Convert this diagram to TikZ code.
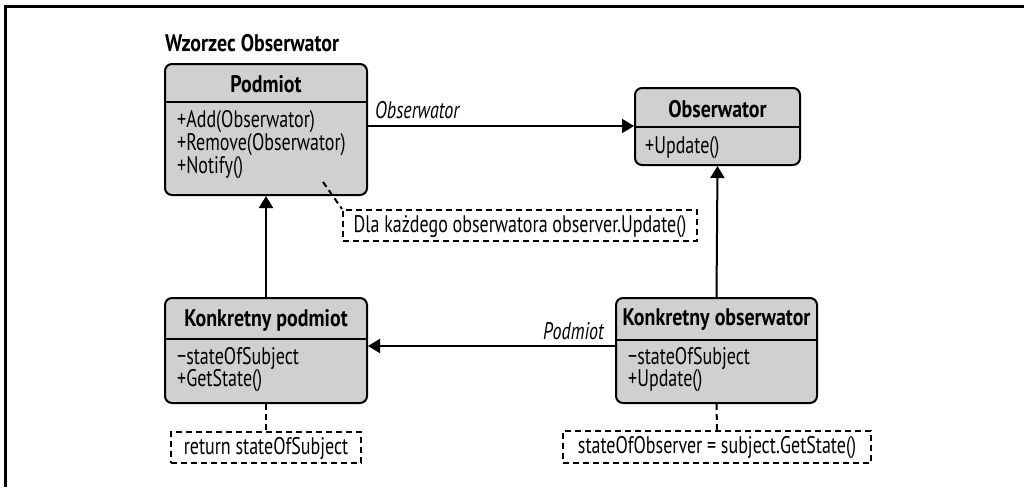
\documentclass[tikz,border=0pt]{standalone}
\usepackage{fontspec}
\setmainfont{PT Sans}[FakeStretch=0.75, BoldFeatures={FakeStretch=0.83}]
\usetikzlibrary{arrows.meta}
\begin{document}
\begin{tikzpicture}[x=1pt,y=-1pt,
  cls/.style={draw, line width=2pt, rounded corners=7pt, fill=boxgray, inner sep=0pt},
  note/.style={draw, line width=2pt, dash pattern=on 6pt off 4pt, inner sep=0pt, fill=white},
  hdr/.style={font=\fontsize{24}{26}\selectfont\bfseries, inner sep=0pt},
  mem/.style={font=\fontsize{24}{26}\selectfont, inner sep=0pt, anchor=west},
  ntxt/.style={font=\fontsize{24}{26}\selectfont, inner sep=0pt},
  rolelbl/.style={font=\fontsize{24}{26}\selectfont\itshape, inner sep=0pt},
  arr/.style={line width=2pt, -{Triangle[length=12pt,width=14pt]}},
  dsh/.style={line width=2pt, dash pattern=on 6pt off 4pt},
  divl/.style={line width=2pt}
]
\definecolor{boxgray}{RGB}{208,208,208}
\useasboundingbox (0,0) rectangle (1024,487);
% frame
\draw[line width=2.5pt] (5.5,487) -- (5.5,6.5) -- (1024,6.5);

% title
\node[hdr, anchor=base west] (title) at (165,52) {Wzorzec Obserwator};

% Podmiot
\node[cls, minimum width=202, minimum height=131] (P) at (266,129.5) {};
\draw[divl] (P.west |- 0,102) -- (P.east |- 0,102);
\node[hdr] (Pt) at (266,84) {Podmiot};
\node[mem] (P1) at (177,122) {+Add(Obserwator)};
\node[mem] (P2) at (177,145) {+Remove(Obserwator)};
\node[mem] (P3) at (177,168) {+Notify()};

% Obserwator
\node[cls, minimum width=165, minimum height=77] (O) at (717.5,126.5) {};
\draw[divl] (O.west |- 0,127) -- (O.east |- 0,127);
\node[hdr] (Ot) at (717.5,109) {Obserwator};
\node[mem] (O1) at (645,148) {+Update()};

% Konkretny podmiot
\node[cls, minimum width=202, minimum height=105] (KP) at (266,350.5) {};
\draw[divl] (KP.west |- 0,339) -- (KP.east |- 0,339);
\node[hdr] (KPt) at (266,320) {Konkretny podmiot};
\node[mem] (KP1) at (177,358) {−stateOfSubject};
\node[mem] (KP2) at (177,381) {+GetState()};

% Konkretny obserwator
\node[cls, minimum width=201, minimum height=105] (KO) at (716.5,350.5) {};
\draw[divl] (KO.west |- 0,340) -- (KO.east |- 0,340);
\node[hdr] (KOt) at (716.5,320) {Konkretny obserwator};
\node[mem] (KO1) at (628,358) {−stateOfSubject};
\node[mem] (KO2) at (628,381) {+Update()};

% notes
\node[note, minimum width=354, minimum height=31] (N1) at (520,225.5) {};
\node[ntxt] (N1t) at (520,226.5) {Dla każdego obserwatora observer.Update()};
\node[note, minimum width=190, minimum height=31] (N2) at (266,447.5) {};
\node[ntxt] (N2t) at (266,448.5) {return stateOfSubject};
\node[note, minimum width=308, minimum height=32] (N3) at (717,447) {};
\node[ntxt] (N3t) at (717,448) {stateOfObserver = subject.GetState()};

% connectors
\draw[arr] (P.east |- 0,126) -- (O.west |- 0,126);
\node[rolelbl, anchor=base west] (rObs) at (375,118) {Obserwator};
\draw[arr] (KP.north) -- (P.south);
\draw[arr] (KO.north) -- (O.south);
\draw[arr] (KO.west |- 0,346) -- (KP.east |- 0,346);
\node[rolelbl, anchor=base east] (rPod) at (604,339) {Podmiot};

\coordinate (nstart) at (323,182);
\draw[dsh] (nstart) -- (N1.north west);
\draw[dsh] (KP.south) -- (N2.north);
\draw[dsh] (KO.south) -- (N3.north);
\end{tikzpicture}
\end{document}
